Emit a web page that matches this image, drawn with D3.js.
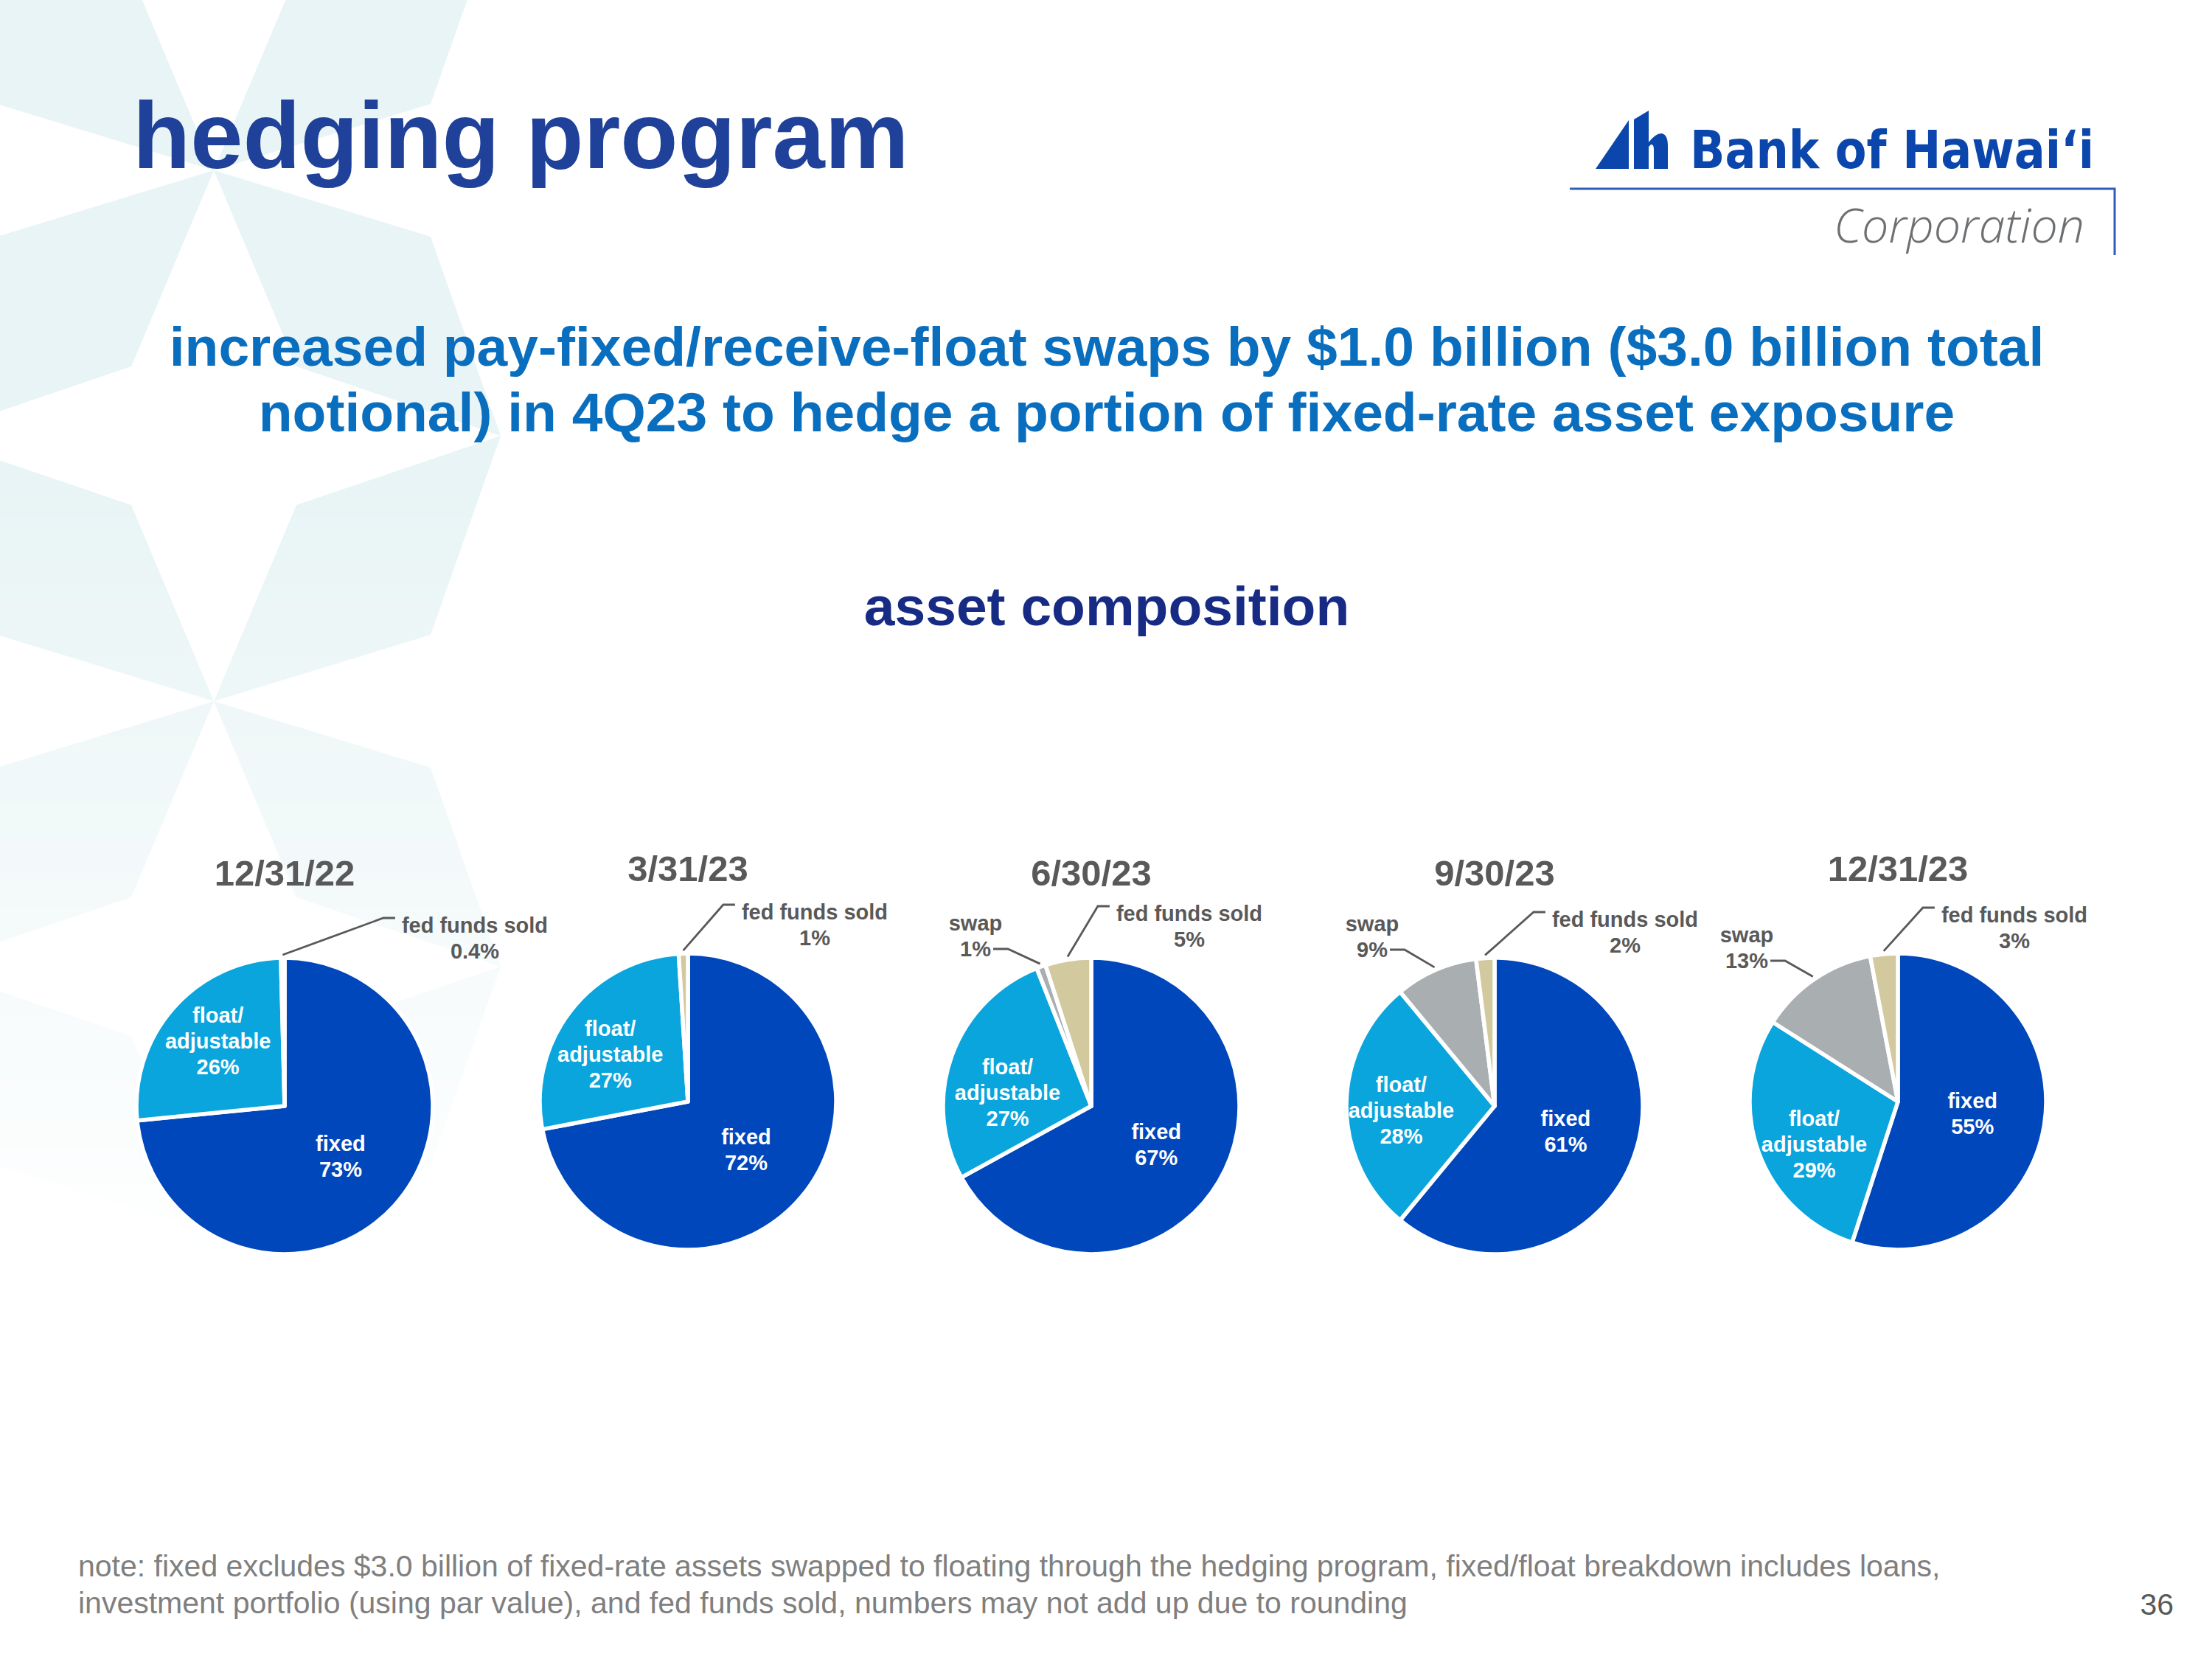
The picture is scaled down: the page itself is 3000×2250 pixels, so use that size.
<!DOCTYPE html>
<html>
<head>
<meta charset="utf-8">
<title>hedging program</title>
<script src="https://cdn.jsdelivr.net/npm/d3@7"></script>
<style>
  body { margin: 0; background: #fff; }
  svg { display: block; }
  text { font-family: "Liberation Sans", Arial, Helvetica, sans-serif; }
</style>
</head>
<body>
<div id="slide"></div>
<script>
// asset composition by quarter end (percent of total)
var dates = ['12/31/22', '3/31/23', '6/30/23', '9/30/23', '12/31/23'];
var categories = ['fixed', 'float/adjustable', 'swap', 'fed funds sold'];
var fixedPct = [73, 72, 67, 61, 55];
var floatPct = [26, 27, 27, 28, 29];
var swapPct = [0, 0, 1, 9, 13];
var fedFundsPct = [0.4, 1, 5, 2, 3];

var sliceColors = ['#0047BB', '#0AA5DD', '#A9AEB1', '#D3C99E'];

// where the outside callouts sit, relative to each pie centre
var fedLabelPos = [[258, -235], [172, -247], [133, -251], [177, -243], [158, -243]];
var swapLabelPos = [null, null, [-157, -238], [-166, -237], [-205, -216]];
var floatNudge = [[0, -8], [-10, 10], [0, 23], [-6, 6], [0, 17]];
var pieLift = [0, -6, 0, 0, -6];

var W = 3000, H = 2250;
var svg = d3.select('#slide').append('svg')
    .attr('width', W)
    .attr('height', H);

var defs = svg.append('defs');

// ---------- faint star pattern on the left ----------
var fade = defs.append('linearGradient')
    .attr('id', 'fade')
    .attr('gradientUnits', 'userSpaceOnUse')
    .attr('x1', 0).attr('y1', 650).attr('x2', 0).attr('y2', 1720);
fade.append('stop').attr('offset', 0).attr('stop-color', '#fff').attr('stop-opacity', 1);
fade.append('stop').attr('offset', 1).attr('stop-color', '#fff').attr('stop-opacity', 0);
defs.append('mask').attr('id', 'fadeMask')
    .append('rect')
        .attr('width', W).attr('height', H)
        .attr('fill', 'url(#fade)');

var kiteCentres = [[290, 231], [290, 951], [290, 1671]];
var kite = [[0, 0], [294, 90], [389, 360], [112, 266]];
var bg = svg.append('g').attr('mask', 'url(#fadeMask)');
kiteCentres.forEach(function (c) {
    [[1, 1], [1, -1], [-1, 1], [-1, -1]].forEach(function (s) {
        bg.append('polygon')
            .attr('points', kite.map(function (p) {
                return (c[0] + s[0] * p[0]) + ',' + (c[1] + s[1] * p[1]);
            }).join(' '))
            .style('fill', '#E8F4F5');
    });
});

// ---------- headings ----------
svg.append('text')
    .attr('x', 180)
    .attr('y', 228)
    .style('font-size', '128px')
    .style('font-weight', 'bold')
    .style('fill', '#1F4199')
    .text('hedging program');

var sub = svg.append('text')
    .attr('text-anchor', 'middle')
    .style('font-size', '75px')
    .style('font-weight', 'bold')
    .style('fill', '#0A6EBE');
sub.append('tspan').attr('x', 1501).attr('y', 496)
    .text('increased pay-fixed/receive-float swaps by $1.0 billion ($3.0 billion total');
sub.append('tspan').attr('x', 1501).attr('y', 585)
    .text('notional) in 4Q23 to hedge a portion of fixed-rate asset exposure');

svg.append('text')
    .attr('x', 1501)
    .attr('y', 848)
    .attr('text-anchor', 'middle')
    .style('font-size', '75px')
    .style('font-weight', 'bold')
    .style('fill', '#172B84')
    .text('asset composition');

// ---------- logo ----------
var logo = svg.append('g');
logo.append('polygon')
    .attr('points', '2164,229 2209,229 2209,163')
    .style('fill', '#0B46AC');
logo.append('path')
    .attr('d', 'M2216,229 L2216,162 L2236,150 L2236,193 Q2246,180 2254,181 Q2262,183 2262,198 L2262,229 L2243,229 L2243,203 Q2243,195 2239,196 L2236,199 L2236,229 Z')
    .style('fill', '#0B46AC');
logo.append('text')
    .attr('x', 2292)
    .attr('y', 228)
    .attr('textLength', 548)
    .attr('lengthAdjust', 'spacingAndGlyphs')
    .style('font-family', '"DejaVu Sans", "Liberation Sans", sans-serif')
    .style('font-size', '72px')
    .style('font-weight', 'bold')
    .style('fill', '#0B46AC')
    .text('Bank of Hawai\u2018i');
logo.append('polyline')
    .attr('points', '2129,256 2868,256 2868,346')
    .style('fill', 'none')
    .style('stroke', '#2F5DB9')
    .style('stroke-width', 3);
logo.append('text')
    .attr('x', 2487)
    .attr('y', 329)
    .attr('textLength', 340)
    .attr('lengthAdjust', 'spacingAndGlyphs')
    .style('font-family', '"Open Sans", "Noto Sans", sans-serif')
    .style('font-style', 'italic')
    .style('font-weight', 300)
    .style('font-size', '64px')
    .style('fill', '#6D7072')
    .text('Corporation');

// ---------- pies ----------
var pieX = d3.scalePoint().domain(dates).range([386, 2574]);
var pieY = 1500;
var radius = 201;
var lineGap = 35;

var pie = d3.pie().sort(null).value(function (d) { return d.value; });
var arc = d3.arc().innerRadius(0).outerRadius(radius);
var rim = d3.arc().innerRadius(radius + 4).outerRadius(radius + 4);
var fixedSpot = d3.arc().innerRadius(radius * 0.51).outerRadius(radius * 0.51);
var floatSpot = d3.arc().innerRadius(radius * 0.6).outerRadius(radius * 0.6);
var leader = d3.line();

var series = [fixedPct, floatPct, swapPct, fedFundsPct];

function pct(v) {
    return (v < 1 ? v.toFixed(1) : v.toFixed(0)) + '%';
}

function multiLine(g, x, y, lines, colour, centred) {
    var t = g.append('text')
        .attr('text-anchor', 'middle')
        .style('font-size', '29px')
        .style('font-weight', 'bold')
        .style('fill', colour);
    var top = centred ? y - (lines.length - 1) * lineGap / 2 + 10 : y;
    lines.forEach(function (s, i) {
        t.append('tspan')
            .attr('x', x)
            .attr('y', top + i * lineGap)
            .text(s);
    });
    return t;
}

dates.forEach(function (date, i) {
    var cx = pieX(date), cy = pieY + pieLift[i];
    var rows = categories.map(function (c, k) {
        return {key: c, idx: k, value: series[k][i]};
    });
    var arcs = pie(rows);

    var g = svg.append('g')
        .attr('transform', 'translate(' + cx + ',' + cy + ')');

    g.append('text')
        .attr('x', 0)
        .attr('y', -299)
        .attr('text-anchor', 'middle')
        .style('font-size', '49px')
        .style('font-weight', 'bold')
        .style('fill', '#595959')
        .text(date);

    g.selectAll('path.slice')
        .data(arcs.filter(function (d) { return d.data.value > 0; }))
        .enter().append('path')
            .attr('class', 'slice')
            .attr('d', arc)
            .style('fill', function (d) { return sliceColors[d.data.idx]; })
            .style('stroke', '#fff')
            .style('stroke-width', 5.5)
            .style('stroke-linejoin', 'round');

    // inside labels
    var p = fixedSpot.centroid(arcs[0]);
    multiLine(g, p[0], p[1], ['fixed', pct(fixedPct[i])], '#fff', true);
    p = floatSpot.centroid(arcs[1]);
    multiLine(g, p[0] + floatNudge[i][0], p[1] + floatNudge[i][1],
        ['float/', 'adjustable', pct(floatPct[i])], '#fff', true);

    // fed funds sold callout
    var fp = fedLabelPos[i];
    var ft = multiLine(g, fp[0], fp[1], ['fed funds sold', pct(fedFundsPct[i])], '#595959', false);
    var w1 = ft.select('tspan').node().getComputedTextLength();
    var left = fp[0] - w1 / 2;
    g.append('path')
        .attr('d', leader([rim.centroid(arcs[3]), [left - 25, fp[1] - 20], [left - 9, fp[1] - 20]]))
        .style('fill', 'none')
        .style('stroke', '#595959')
        .style('stroke-width', 2.8);

    // swap callout
    if (swapPct[i] > 0) {
        var sp = swapLabelPos[i];
        var st = multiLine(g, sp[0], sp[1], ['swap', pct(swapPct[i])], '#595959', false);
        var w2 = d3.select(st.selectAll('tspan').nodes()[1]).node().getComputedTextLength();
        var sx = sp[0] + w2 / 2 + 3, sy = sp[1] + lineGap - 10;
        g.append('path')
            .attr('d', leader([[sx, sy], [sx + 20, sy], rim.centroid(arcs[2])]))
            .style('fill', 'none')
            .style('stroke', '#595959')
            .style('stroke-width', 2.8);
    }
});

// ---------- footnote ----------
var note = svg.append('text')
    .style('font-size', '41px')
    .style('fill', '#7F7F7F');
note.append('tspan').attr('x', 106).attr('y', 2138)
    .text('note: fixed excludes $3.0 billion of fixed-rate assets swapped to floating through the hedging program, fixed/float breakdown includes loans,');
note.append('tspan').attr('x', 106).attr('y', 2188)
    .text('investment portfolio (using par value), and fed funds sold, numbers may not add up due to rounding');

svg.append('text')
    .attr('x', 2948)
    .attr('y', 2190)
    .attr('text-anchor', 'end')
    .style('font-size', '41px')
    .style('fill', '#595959')
    .text('36');
</script>
</body>
</html>
